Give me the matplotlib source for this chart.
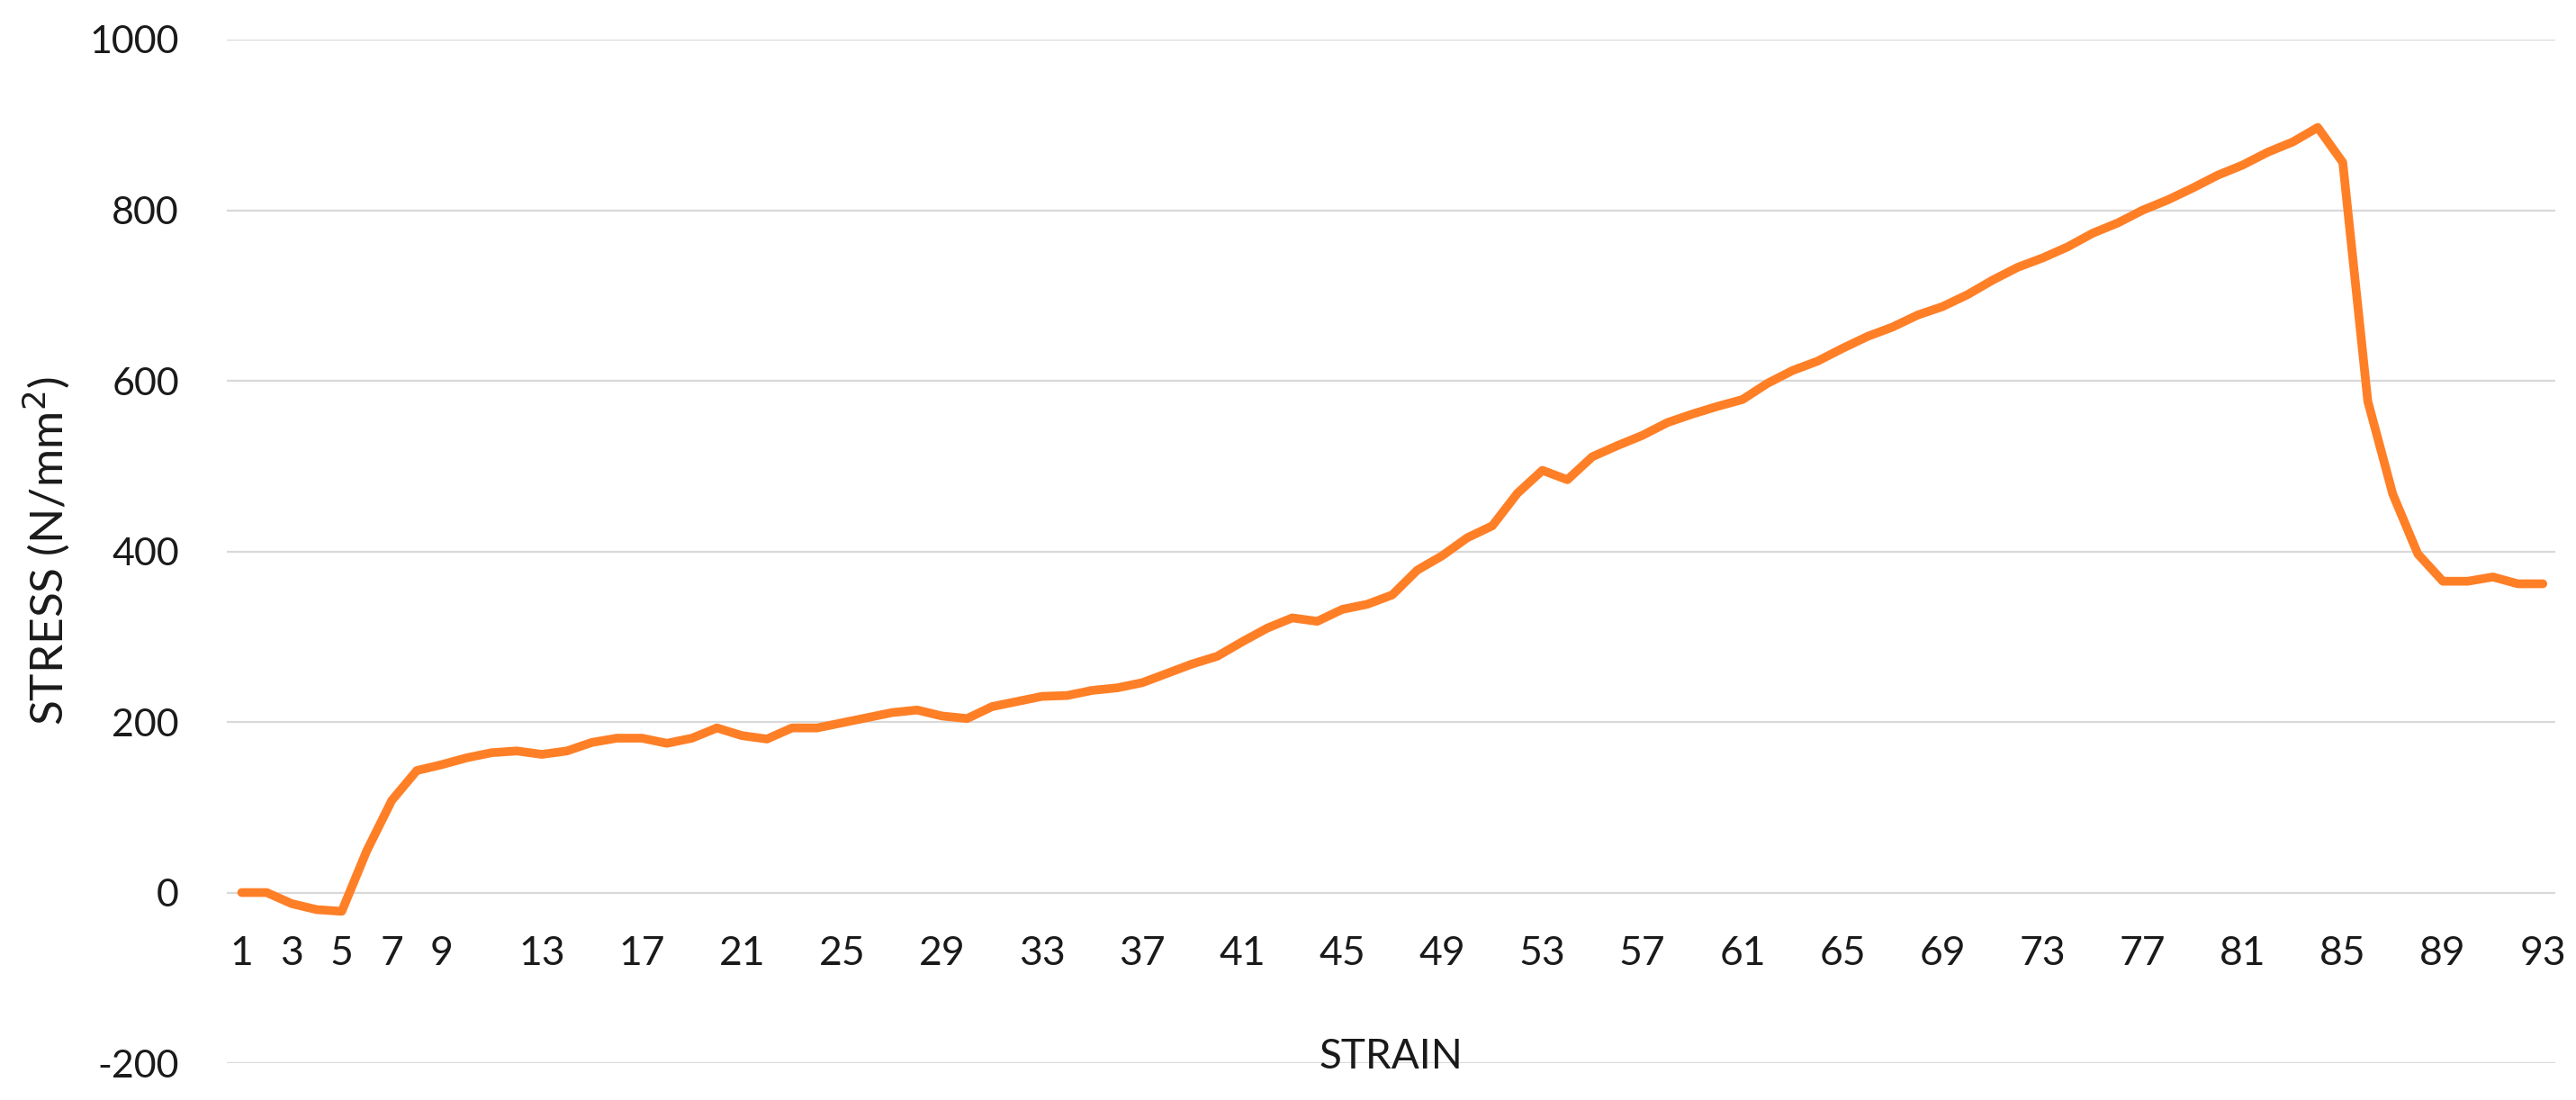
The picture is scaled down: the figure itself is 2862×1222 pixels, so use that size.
import numpy as np
import matplotlib
matplotlib.use('Agg')
import matplotlib.pyplot as plt

plt.rcParams['font.family'] = ['Lato', 'DejaVu Sans']
plt.rcParams['axes.unicode_minus'] = False

# strain steps 1..93 and stress values
strain = list(range(1, 94))
stress = [0, 0, -13, -20, -22, 49, 108, 143, 150, 158,
          164, 166, 162, 166, 176, 181, 181, 175, 181, 193,
          184, 180, 193, 193, 199, 205, 211, 214, 207, 204,
          218, 224, 230, 231, 237, 240, 246, 257, 268, 277,
          294, 310, 322, 318, 332, 338, 349, 378, 395, 416,
          430, 468, 495, 484, 511, 524, 536, 551, 561, 570,
          578, 597, 612, 623, 638, 652, 663, 677, 687, 701,
          718, 733, 744, 757, 773, 785, 800, 812, 826, 841,
          853, 868, 880, 897, 856, 576, 467, 397, 365, 365,
          370, 362, 362]

xtick_labels = [1, 3, 5, 7, 9] + list(range(13, 94, 4))
yticks = [-200, 0, 200, 400, 600, 800, 1000]

fig = plt.figure(figsize=(28.62, 12.22), dpi=100)
ax = fig.add_axes([0.088, 0.0335, 0.904, 0.9305])

grid_col = '#d9d9d9'
for y in yticks:
    ax.axhline(y, color=grid_col, lw=1.6, zorder=0)

ax.plot(strain, stress, color='#ff7f27', lw=7, solid_joinstyle='round',
        solid_capstyle='round', zorder=3)

ax.set_xlim(0.4, 93.5)
ax.set_ylim(-200, 1000)
ax.set_xticks(xtick_labels)
ax.set_xticklabels([str(v) for v in xtick_labels])
ax.set_yticks(yticks)

for s in ['top', 'right', 'left']:
    ax.spines[s].set_visible(False)
ax.spines['bottom'].set_position(('data', 0))
ax.spines['bottom'].set_visible(False)

ax.tick_params(axis='x', length=0, pad=34, labelsize=32, labelcolor='#1a1a1a')
ax.tick_params(axis='y', length=0, pad=38, labelsize=31, labelcolor='#1a1a1a')

ax.set_ylabel('STRESS (N/mm$^2$)', fontsize=37, color='#1a1a1a', labelpad=14)
ax.text(0.5, 0.006, 'STRAIN', transform=ax.transAxes, ha='center', va='center',
        fontsize=33, color='#1a1a1a')

fig.savefig('out.png', dpi=100, facecolor='white')
